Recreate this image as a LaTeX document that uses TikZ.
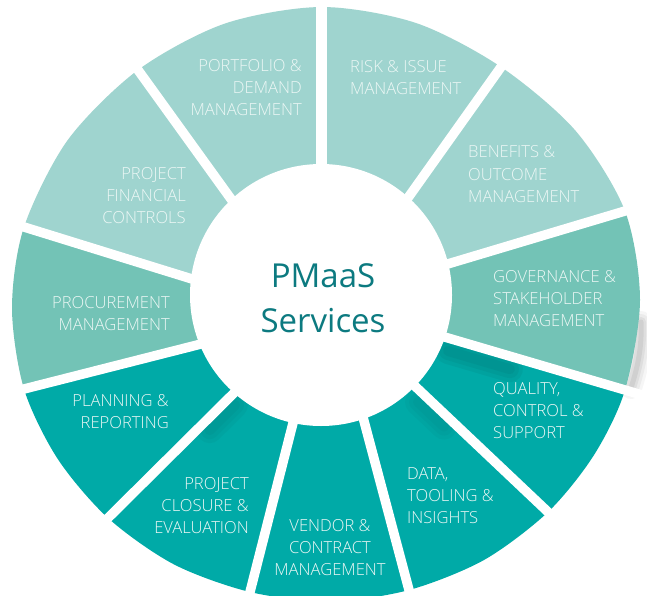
\documentclass[tikz,border=0pt]{standalone}
\usepackage{fontspec}
\usetikzlibrary{calc}
\IfFontExistsTF{Open Sans Light}{\newfontfamily\segfont{Open Sans Light}}{\newfontfamily\segfont{Open Sans}}
\newfontfamily\ctrfont{Open Sans}
\definecolor{seglight}{RGB}{159,212,207}
\definecolor{segmid}{RGB}{115,195,182}
\definecolor{segdark}{RGB}{0,170,167}
\definecolor{segshade}{RGB}{0,95,95}
\definecolor{segtext}{RGB}{236,247,245}
\definecolor{ctrtext}{RGB}{12,122,128}
\newcommand\ringlabel[5]{\foreach \l [count=\n from 0] in {#5} {\node[segtxt, anchor=#4] (#1-\n) at (#2, {#3+22*\n}) {\l};}}
\newcommand\gapshade[3]{% gap index, reach along gap, strength
  \foreach \w in {26,18,10} {\draw[segshade, opacity=#3, line width=\w pt, line cap=round]
    ($(i#1)+(0,13)$) -- ($($(i#1)!#2!(o#1)$)+(0,13)$);}}
\begin{document}
\begin{tikzpicture}[x=1pt,y=-1pt,
  gap/.style={white,line width=9.5pt},
  segtxt/.style={inner sep=0pt, text=segtext, font=\segfont\fontsize{16.6}{20}\selectfont},
  ctrtxt/.style={inner sep=0pt, text=ctrtext, font=\ctrfont\fontsize{33}{40}\selectfont}]
\useasboundingbox (0,0) rectangle (647,596);
\fill[white] (0,0) rectangle (647,596);
% soft grey shadow to the right of the governance segment
\foreach \w/\o in {22/0.035, 16/0.045, 10/0.055, 5/0.06}{
  \draw[black, opacity=\o, line width=\w pt, line cap=round]
    (641,322) .. controls (642,347) and (638,366) .. (631,388);}
% gap lines: outer point / inner point
\foreach \k/\ox/\oy/\ix/\iy in {1/321.5/7/321.5/170, 2/501/67/410/195, 3/625/211/451/263,
   4/625/390/448/338, 5/548/512/418/389, 6/409/590/364/421, 7/250/592/293/423,
   8/108/518/235/392, 9/24/389/201/344, 10/24/227/192/279, 11/138/70/231/199}{
  \coordinate (o\k) at (\ox,\oy);
  \coordinate (i\k) at (\ix,\iy);
  \coordinate (n\k) at ($(i\k)!-0.4!(o\k)$);
  \coordinate (f\k) at ($(i\k)!2.2!(o\k)$);
}
\begin{scope}
\clip plot[smooth cycle] coordinates {(321.5,7) (416,23) (501,67) (575.5,130.7) (625,211)
  (640,300) (625,390) (594,455) (548,512) (484,560) (409,590) (330,601.5) (250,592)
  (173.8,564.3) (108,518) (57.5,458.6) (24,389) (12,308) (24,227) (67.7,140.1) (138,70)
  (224.5,23.7)};
\fill[seglight] (n1) -- (f1) -- (f2) -- (n2) -- cycle;   % risk
\fill[seglight] (n2) -- (f2) -- (f3) -- (n3) -- cycle;   % benefits
\fill[segmid]   (n3) -- (f3) -- (f4) -- (n4) -- cycle;   % governance
\fill[segdark]  (n4) -- (f4) -- (f5) -- (n5) -- cycle;   % quality
\fill[segdark]  (n5) -- (f5) -- (f6) -- (n6) -- cycle;   % data
\fill[segdark]  (n6) -- (f6) -- (f7) -- (n7) -- cycle;   % vendor
\fill[segdark]  (n7) -- (f7) -- (f8) -- (n8) -- cycle;   % closure
\fill[segdark]  (n8) -- (f8) -- (f9) -- (n9) -- cycle;   % planning
\fill[segmid]   (n9) -- (f9) -- (f10) -- (n10) -- cycle; % procurement
\fill[seglight] (n10) -- (f10) -- (f11) -- (n11) -- cycle; % financial
\fill[seglight] (n11) -- (f11) -- (f1) -- (n1) -- cycle; % portfolio
% soft shading cast below some gaps
\begin{scope}
\clip (n4) -- (f4) -- (f5) -- (n5) -- cycle;
\gapshade{4}{0.35}{0.10}
\end{scope}
\begin{scope}
\clip (n5) -- (f5) -- (f6) -- (n6) -- cycle;
\gapshade{5}{0.2}{0.06}
\end{scope}
\begin{scope}
\clip (n7) -- (f7) -- (f8) -- (n8) -- cycle;
\gapshade{8}{0.2}{0.07}
\end{scope}
\end{scope}
\foreach \k in {2,...,11} {\draw[gap] (n\k) -- (f\k);}
\draw[gap, line width=10.5pt] (n1) -- (f1);
\node[circle, fill=white, inner sep=0pt, minimum size=262pt] (hub) at (321,295) {};
\node[ctrtxt, anchor=base] (hub-1) at (323,287) {PMaaS};
\node[ctrtxt, anchor=base] (hub-2) at (323,332) {Services};
\ringlabel{portfolio}{302}{72}{base east}{PORTFOLIO \&, DEMAND, MANAGEMENT}
\ringlabel{risk}{350}{73}{base west}{RISK \& ISSUE, MANAGEMENT}
\ringlabel{benefits}{468}{158}{base west}{BENEFITS \&, OUTCOME, MANAGEMENT}
\ringlabel{financial}{186}{179}{base east}{PROJECT, FINANCIAL, CONTROLS}
\ringlabel{governance}{493}{282}{base west}{GOVERNANCE \&, STAKEHOLDER, MANAGEMENT}
\ringlabel{procurement}{170}{308}{base east}{PROCUREMENT, MANAGEMENT}
\ringlabel{planning}{169}{406}{base east}{PLANNING \&, REPORTING}
\ringlabel{quality}{493}{394}{base west}{{QUALITY,}, CONTROL \&, SUPPORT}
\ringlabel{closure}{249}{489}{base east}{PROJECT, CLOSURE \&, EVALUATION}
\ringlabel{data}{407}{479}{base west}{{DATA,}, TOOLING \&, INSIGHTS}
\ringlabel{vendor}{330}{531}{base}{VENDOR \&, CONTRACT, MANAGEMENT}
\end{tikzpicture}
\end{document}
